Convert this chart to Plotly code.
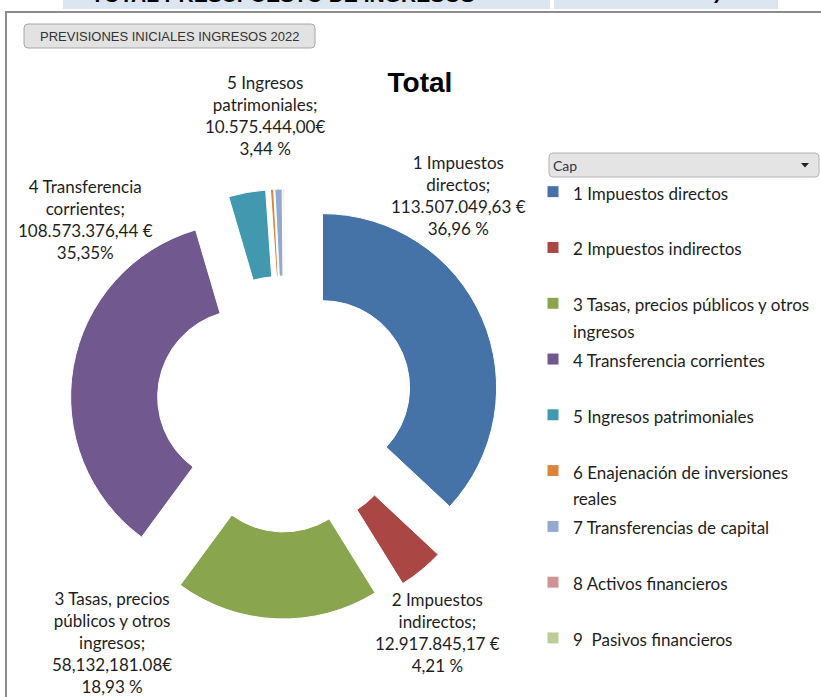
import textwrap
import plotly.graph_objects as go

W, H = 821, 697

# ---------------- data ----------------
categories = [
    "1 Impuestos directos",
    "2 Impuestos indirectos",
    "3 Tasas, precios públicos y otros ingresos",
    "4 Transferencia corrientes",
    "5 Ingresos patrimoniales",
    "6 Enajenación de inversiones reales",
    "7 Transferencias de capital",
    "8 Activos financieros",
    "9  Pasivos financieros",
]
values = [113507049.63, 12917845.17, 58132181.08, 108573376.44, 10575444.00,
          900000.0, 2050000.0, 450000.0, 0.0]
colors = ["#4572A7", "#AA4643", "#89A54E", "#71588F", "#4198AF",
          "#DB843D", "#93A9CF", "#D19392", "#B9CD96"]

# data labels as printed on the chart (first five chapters)
label_names = ["1 Impuestos<br>directos;", "2 Impuestos<br>indirectos;",
               "3 Tasas, precios<br>públicos y otros<br>ingresos;",
               "4 Transferencia<br>corrientes;", "5 Ingresos<br>patrimoniales;"]
label_amounts = ["113.507.049,63 €", "12.917.845,17 €", "58,132,181.08€",
                 "108.573.376,44 €", "10.575.444,00€"]
label_pcts = ["36,96 %", "4,21 %", "18,93 %", "35,35%", "3,44 %"]

title_text = "Total"
button_text = "PREVISIONES INICIALES INGRESOS 2022"
header_text = "TOTAL PRESUPUESTO DE INGRESOS"
header_text_2 = ")"
legend_field = "Cap"

# ---------------- helpers (pixel -> paper) ----------------
def px(x):
    return x / W


def py(y):
    return 1 - y / H


def rrect(x0, y0, x1, y1, r):
    pts = [
        f"M{px(x0 + r)},{py(y0)}", f"L{px(x1 - r)},{py(y0)}",
        f"Q{px(x1)},{py(y0)} {px(x1)},{py(y0 + r)}", f"L{px(x1)},{py(y1 - r)}",
        f"Q{px(x1)},{py(y1)} {px(x1 - r)},{py(y1)}", f"L{px(x0 + r)},{py(y1)}",
        f"Q{px(x0)},{py(y1)} {px(x0)},{py(y1 - r)}", f"L{px(x0)},{py(y0 + r)}",
        f"Q{px(x0)},{py(y0)} {px(x0 + r)},{py(y0)}", "Z",
    ]
    return " ".join(pts)


# legend labels: wrapped, padded to two lines so every entry takes one slot
legend_labels = []
for c in categories:
    lines = textwrap.wrap(c, 33)
    if len(lines) < 2:
        lines.append(" ")
    legend_labels.append("<br>".join(
        f"<span style='font-size:17px'>{ln}</span>" if ln.strip() else " " for ln in lines))

fig = go.Figure()
fig.add_trace(go.Pie(
    labels=legend_labels,
    values=values,
    marker=dict(colors=colors, line=dict(color="white", width=1)),
    hole=0.5,
    pull=[0.235] * len(values),
    sort=False,
    direction="clockwise",
    rotation=0,
    textinfo="none",
    hoverinfo="skip",
    domain=dict(x=[px(70), px(500)], y=[py(619), py(189)]),
))

# data label positions (pixel centres)
label_pos = [(458, 195), (437, 632), (112, 642), (85, 219), (265, 116)]
annotations = []
for (x, y), n, a, p in zip(label_pos, label_names, label_amounts, label_pcts):
    annotations.append(dict(
        x=px(x), y=py(y), xref="paper", yref="paper", showarrow=False,
        text=f"{n}<br>{a}<br>{p}", align="center", xanchor="center", yanchor="middle",
        font=dict(family="Lato", size=17, color="#1E1E1E"),
    ))

# header (cut off at the top of the picture)
annotations.append(dict(x=px(283), y=py(8), xref="paper", yref="paper", showarrow=False,
                        text=f"<b>{header_text}</b>", xanchor="center", yanchor="bottom",
                        font=dict(family="Liberation Sans", size=21, color="#000000")))
annotations.append(dict(x=px(723), y=py(5), xref="paper", yref="paper", showarrow=False,
                        text=f"<b>{header_text_2}</b>", xanchor="right", yanchor="bottom",
                        font=dict(family="Liberation Sans", size=21, color="#000000")))
# button text
annotations.append(dict(x=px(169), y=py(36.5), xref="paper", yref="paper", showarrow=False,
                        text=button_text, xanchor="center", yanchor="middle",
                        font=dict(family="Liberation Sans", size=13, color="#333333")))
# legend field button text
annotations.append(dict(x=px(551), y=py(165.5), xref="paper", yref="paper", showarrow=False,
                        text=legend_field, xanchor="left", yanchor="middle",
                        font=dict(family="Lato", size=14, color="#30343F")))

shapes = [
    # header boxes
    dict(type="rect", xref="paper", yref="paper", x0=px(63), x1=px(550), y0=py(9), y1=py(-5),
         fillcolor="#DCE6F1", line=dict(width=0), layer="below"),
    dict(type="rect", xref="paper", yref="paper", x0=px(554), x1=px(778), y0=py(9), y1=py(-5),
         fillcolor="#DCE6F1", line=dict(width=0), layer="below"),
    # chart frame
    dict(type="rect", xref="paper", yref="paper", x0=px(6), x1=px(840), y0=py(720), y1=py(12),
         fillcolor="rgba(0,0,0,0)", line=dict(color="#8C8C8C", width=2)),
    # button
    dict(type="path", xref="paper", yref="paper", path=rrect(24, 24, 315, 48, 4),
         fillcolor="#E2E2E2", line=dict(color="#A6A6A6", width=1)),
    # legend field button
    dict(type="path", xref="paper", yref="paper", path=rrect(549, 153, 819, 177, 4),
         fillcolor="#E4E4E4", line=dict(color="#B4B4B4", width=1)),
    dict(type="path", xref="paper", yref="paper",
         path=f"M{px(801)},{py(163)} L{px(809)},{py(163)} L{px(805)},{py(167.5)} Z",
         fillcolor="#222222", line=dict(width=0)),
]

fig.update_layout(
    width=W, height=H,
    margin=dict(l=0, r=0, t=0, b=0),
    paper_bgcolor="white", plot_bgcolor="white",
    title=dict(text=f"<b>{title_text}</b>", x=px(420), y=py(82), xanchor="center",
               yanchor="middle", font=dict(family="Liberation Sans", size=28, color="#000000")),
    showlegend=True,
    legend=dict(x=px(533), y=py(172), xanchor="left", yanchor="top",
                font=dict(family="Lato", size=20.3, color="#1E1E1E"),
                valign="top", bgcolor="rgba(0,0,0,0)", traceorder="normal"),
    annotations=annotations,
    shapes=shapes,
)

fig.write_html(
    "out.html",
    config={"displayModeBar": False},
    post_script="document.body.style.margin='0px';document.body.style.overflow='hidden';",
)
